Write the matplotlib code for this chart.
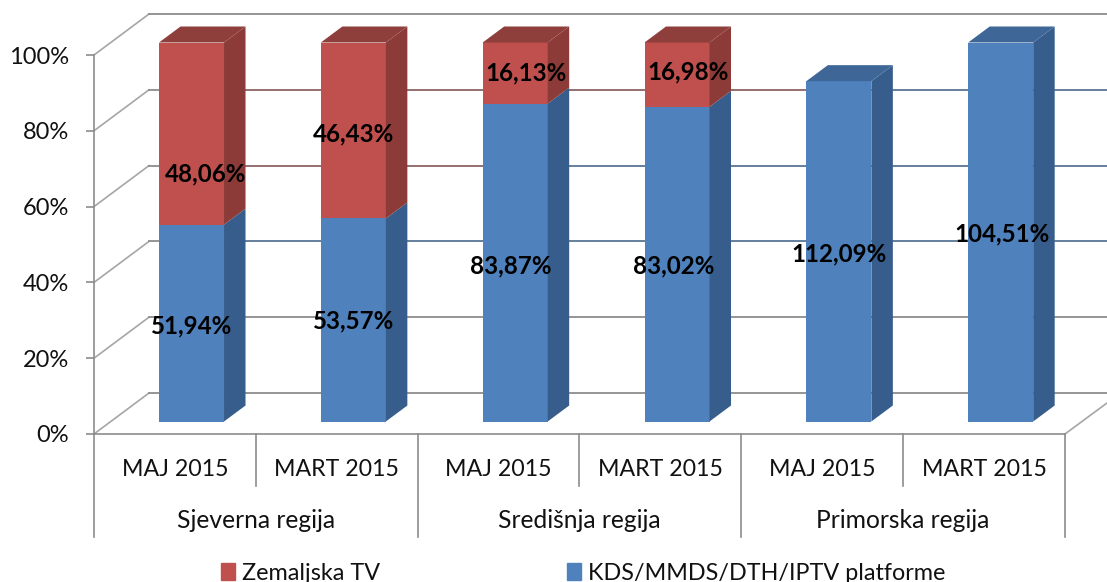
import numpy as np
import matplotlib
matplotlib.use("Agg")
import matplotlib.pyplot as plt
from matplotlib.patches import Patch

plt.rcParams['font.family'] = ['Lato', 'DejaVu Sans']

# values
months = ["MAJ 2015", "MART 2015", "MAJ 2015", "MART 2015", "MAJ 2015", "MART 2015"]
regions = ["Sjeverna regija", "Središnja regija", "Primorska regija"]
blue_vals = [51.94, 53.57, 83.87, 83.02, 89.8, 100.0]
red_vals = [48.06, 46.43, 16.13, 16.98, 0, 0]
# printed labels do not agree with bar heights in the last two columns
blue_labels = ["51,94%", "53,57%", "83,87%", "83,02%", "112,09%", "104,51%"]
red_labels = ["48,06%", "46,43%", "16,13%", "16,98%", "", ""]
levels = [0, 20, 40, 60, 80, 100]

W, H = 1107, 582
X0, X1, Y0, Y1 = 94, 1065, 434, 55
PX_X = (X1 - X0) / 6      # pixels for one category
PX_Y = (Y0 - Y1) / 100    # pixels for one percent

BLUE, BLUE_SIDE, BLUE_TOP = "#4f81bd", "#375d8c", "#3e6797"
RED, RED_SIDE, RED_TOP = "#c0504d", "#8c3b38", "#8e3e3b"
GRID = "#8c8c8c"
WALL = "#a6a6a6"
TINT_BLUE = "#65809f"
TINT_RED = "#96706f"


def dx(px):
    return px / PX_X


def dy(px):
    return px / PX_Y


fig = plt.figure(figsize=(W / 100, H / 100), dpi=100)
ax = fig.add_axes([X0 / W, 1 - Y0 / H, (X1 - X0) / W, (Y0 - Y1) / H])
ax.set_xlim(-0.5, 5.5)
ax.set_ylim(0, 100)
for s in ["top", "right"]:
    ax.spines[s].set_visible(False)
for s in ["left", "bottom"]:
    ax.spines[s].set_color(GRID)
    ax.spines[s].set_linewidth(1.2)

ax.set_xticks([])
ax.set_yticks(levels)
ax.set_yticklabels([f"{v}%" for v in levels], fontsize=17, color="#111111")
ax.tick_params(axis="y", length=6, width=1.2, color=GRID, pad=12)

# back wall and side wall
back_x, back_y = dx(55), dy(41)
bar_x = np.arange(6) + dx(16.6)
bar_w = dx(65)
bar_y = dy(12.5)
side_x, side_y = dx(21.5), dy(16)

for lv in levels:
    ax.plot([-0.5, -0.5 + back_x], [lv, lv + back_y], color=WALL, lw=1.2, clip_on=False, zorder=1)
    ax.plot([-0.5 + back_x, 5.5 + dx(42)], [lv + back_y, lv + back_y], color=GRID, lw=1.3, clip_on=False, zorder=1)
ax.plot([5.5, 5.5 + dx(42)], [0, dy(31)], color=WALL, lw=1.2, clip_on=False, zorder=1)

# grid picks up the colour of the bar next to it
for i in range(6):
    x_a = bar_x[i] + bar_w / 2 + side_x
    x_b = bar_x[i + 1] - bar_w / 2 if i < 5 else 5.5 + dx(42)
    for lv in levels[1:-1]:
        if red_vals[i] > 0 and lv > blue_vals[i] - 5:
            c = TINT_RED
        elif lv >= 40:
            c = TINT_BLUE
        else:
            continue
        ax.plot([x_a, x_b], [lv + back_y, lv + back_y], color=c, lw=1.3, clip_on=False, zorder=1.5)


def draw_segment(x, start, val, front, side):
    ax.bar(x, val, bar_w, bottom=bar_y + start, color=front, linewidth=0, zorder=3)
    r = x + bar_w / 2
    ax.fill([r, r + side_x, r + side_x, r],
            [bar_y + start, bar_y + start + side_y, bar_y + start + val + side_y, bar_y + start + val],
            color=side, linewidth=0, zorder=3)


def draw_top(x, v, top):
    l, r = x - bar_w / 2, x + bar_w / 2
    ax.fill([l, r, r + side_x, l + side_x],
            [bar_y + v, bar_y + v, bar_y + v + side_y, bar_y + v + side_y],
            color=top, linewidth=0, zorder=3, clip_on=False)


for i in range(6):
    draw_segment(bar_x[i], 0, blue_vals[i], BLUE, BLUE_SIDE)
    if red_vals[i] > 0:
        draw_segment(bar_x[i], blue_vals[i], red_vals[i], RED, RED_SIDE)
        draw_top(bar_x[i], blue_vals[i] + red_vals[i], RED_TOP)
    else:
        draw_top(bar_x[i], blue_vals[i], BLUE_TOP)

for a in ax.patches + ax.collections:
    a.set_clip_on(False)

# data labels, centred on their segment, some were moved by hand in the original
blue_nudge = [(0, -3), (0, -1), (-4, -3), (-3, -2), (0, -3), (1, -2)]
red_nudge = [(14, -40), (0, -3), (11, 0), (11, 3), (0, 0), (0, 0)]
for i in range(6):
    ax.annotate(blue_labels[i], (bar_x[i], bar_y + blue_vals[i] / 2), xytext=(blue_nudge[i][0] * 0.72, blue_nudge[i][1] * 0.72),
                textcoords="offset points", ha="center", va="center", fontsize=17.4, fontweight="bold",
                color="black", zorder=5, annotation_clip=False)
    if red_labels[i]:
        ax.annotate(red_labels[i], (bar_x[i], bar_y + blue_vals[i] + red_vals[i] / 2),
                    xytext=(red_nudge[i][0] * 0.72, red_nudge[i][1] * 0.72),
                    textcoords="offset points", ha="center", va="center", fontsize=17.4, fontweight="bold",
                    color="black", zorder=5, annotation_clip=False)

# two level category axis below the plot
y_month = -dy(36)
y_region = -dy(87)
y_minor = -dy(52)
y_major = -dy(103)
for i in range(1, 6, 2):
    ax.plot([i - 0.5, i - 0.5], [0, y_minor], color=GRID, lw=1.2, clip_on=False)
for i in range(0, 7, 2):
    ax.plot([i - 0.5, i - 0.5], [0, y_major], color=GRID, lw=1.2, clip_on=False)
for i, m in enumerate(months):
    ax.text(i, y_month, m, ha="center", va="center", fontsize=16.7, color="#111111")
for i, r in enumerate(regions):
    ax.text(2 * i + 0.5, y_region, r, ha="center", va="center", fontsize=17.7, color="#111111")

handles = [Patch(color=RED, label="Zemaljska TV"), Patch(color=BLUE, label="KDS/MMDS/DTH/IPTV platforme")]
fig.legend(handles=handles, ncol=2, loc="center left", bbox_to_anchor=(214 / W, 1 - 573 / H), frameon=False,
           fontsize=16.8, handlelength=0.6, handleheight=0.7, handletextpad=0.3, columnspacing=8.0,
           labelcolor="#111111", borderpad=0.3, borderaxespad=0)

fig.savefig("out.png", dpi=100)
